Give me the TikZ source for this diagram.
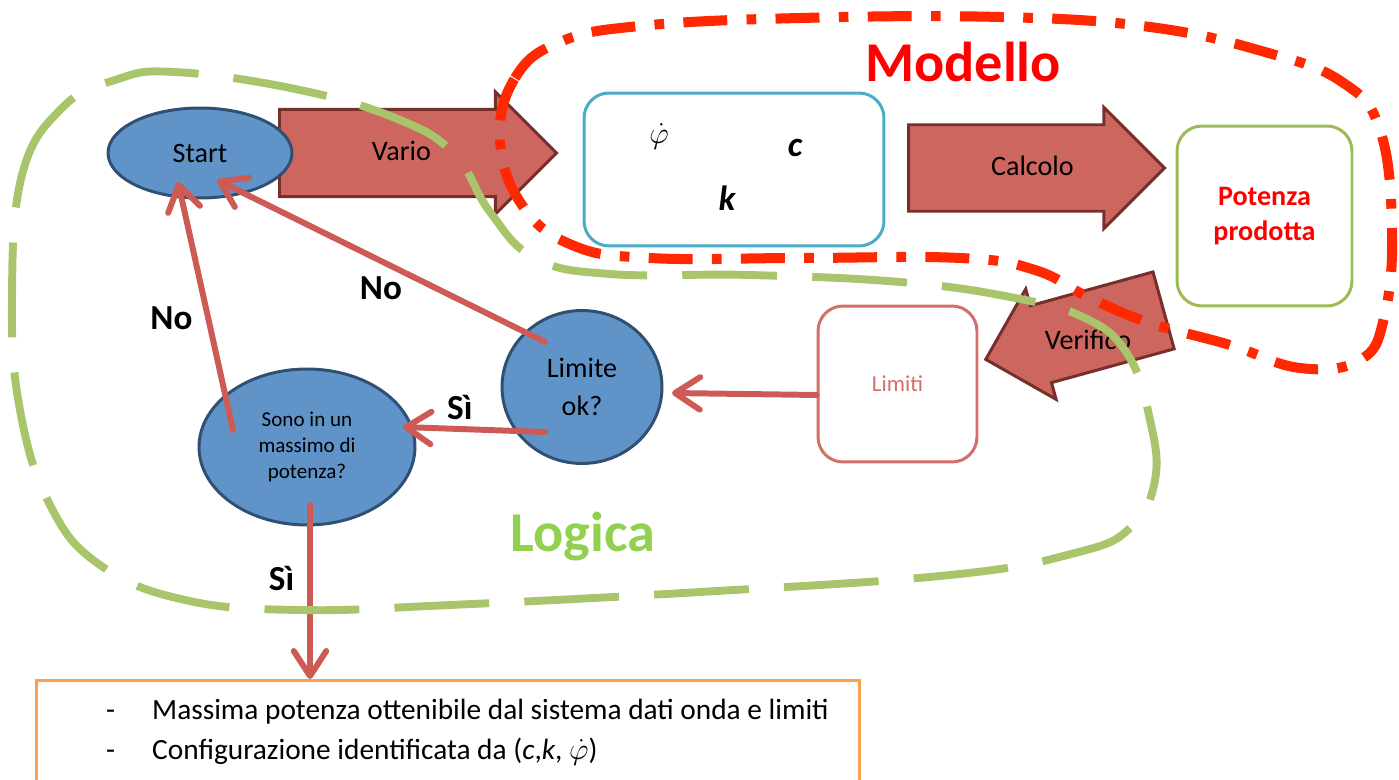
\documentclass[tikz,border=0pt]{standalone}
\usepackage{fontspec}
\setmainfont{Carlito}
\usepackage{xcolor}
\usetikzlibrary{shapes,arrows.meta,positioning,backgrounds,calc}

\definecolor{ellfill}{RGB}{96,148,200}
\definecolor{elldraw}{RGB}{47,80,115}
\definecolor{arrfill}{RGB}{205,102,94}
\definecolor{arrdraw}{RGB}{118,48,44}
\definecolor{linkred}{RGB}{205,90,84}
\definecolor{parcyan}{RGB}{75,172,198}
\definecolor{powgreen}{RGB}{155,187,89}
\definecolor{limred}{RGB}{212,110,105}
\definecolor{resorange}{RGB}{247,160,80}
\definecolor{modred}{RGB}{255,40,0}
\definecolor{loggreen}{RGB}{168,197,108}
\definecolor{logtext}{RGB}{146,208,80}

\begin{document}
\begin{tikzpicture}[x=0.02cm, y=-0.02cm,
        state/.style={ellipse, draw=elldraw, fill=ellfill, line width=1.7pt, inner sep=0pt, align=center},
        bigarrow/.style={single arrow, draw=arrdraw, fill=arrfill, line width=1.7pt, anchor=tail, text height=11pt, text depth=2pt, inner ysep=10.5pt, font=\fontsize{16}{19}\selectfont},
        panel/.style={rectangle, rounded corners=0.5cm, draw, fill=white, line width=1.7pt, align=center},
        link/.style={draw=linkred, line width=3.4pt, line cap=round, -{Straight Barb[round,length=0.5cm,width=0.65cm]}},
        answer/.style={font=\bfseries\fontsize{20}{24}\selectfont},
        title/.style={font=\bfseries\fontsize{32}{38}\selectfont}
    ]
    \clip (0,0) rectangle (1399,780);

    % Block arrows
    \node[bigarrow, minimum height=5.54cm, minimum width=2.44cm] (vario) at (278,153) {\hspace{6pt}Vario};
    \node[bigarrow, minimum height=5.12cm, minimum width=2.42cm] (calcolo) at (907,168) {\hspace{20pt}Calcolo};
    \node[bigarrow, minimum height=3.69cm, minimum width=2.29cm, inner ysep=9pt, rotate=195.4] (verifico) at (1165,310) {};
    \node[font=\fontsize{16}{19}\selectfont] (verificotext) at (1088,340) {Verifico};

    % States
    \node[state, minimum width=3.68cm, minimum height=1.8cm, font=\fontsize{16}{19}\selectfont] (start) at (200,153) {Start};
    \node[state, minimum width=3.2cm, minimum height=3.06cm, font=\fontsize{16}{21.5}\selectfont] (limite) at (582,387) {Limite\\ok?};
    \node[state, minimum width=4.32cm, minimum height=3.12cm, font=\fontsize{12}{15}\selectfont] (massimo) at (307,447) {Sono in un\\massimo di\\potenza?};

    % Boxes
    \node[panel, draw=parcyan, minimum width=6cm, minimum height=3.06cm] (param) at (734,169.5) {};
    \node[panel, draw=powgreen, minimum width=3.5cm, minimum height=3.6cm, text=red, font=\bfseries\fontsize{16}{20}\selectfont] (potenza) at (1264.5,216) {Potenza\\prodotta};
    \node[panel, draw=limred, minimum width=3.18cm, minimum height=3.12cm, text=limred, font=\fontsize{13}{16}\selectfont] (limiti) at (897.5,384) {Limiti};
    \node[rectangle, draw=resorange, line width=1.7pt, minimum width=16.46cm, minimum height=2.6cm, anchor=north west] (result) at (35,679) {};

    % Parameters
    \node[font=\fontsize{17}{20}\selectfont] (phi) at (659,136) {$\dot{\varphi}$};
    \node[font=\bfseries\itshape\fontsize{20}{24}\selectfont] (cpar) at (795,148) {c};
    \node[font=\bfseries\itshape\fontsize{20}{24}\selectfont] (kpar) at (727,198) {k};

    % Result text
    \node[anchor=west, align=left, font=\fontsize{16.7}{20}\selectfont] (resulttext) at (100,732) {\makebox[0.92cm][l]{-}Massima potenza ottenibile dal sistema dati onda e limiti\\[2.5pt]\makebox[0.92cm][l]{-}Configurazione identificata da (\textit{c},\textit{k}, $\dot{\varphi}$)};

    % Connectors
    \draw[link] ([shift={(-74,-17)}]massimo.center) -- ([shift={(-22,29)}]start.center) node[answer, pos=0.45, left=4pt] {No};
    \draw[link] ([shift={(-37,-45)}]limite.center) -- ([shift={(17,27)}]start.center) node[answer, pos=0.5, below=4pt] {No};
    \draw[link] ([shift={(-37,45)}]limite.center) -- ([shift={(96,-20)}]massimo.center) node[answer, pos=0.6, above=0pt] {Sì};
    \draw[link] ([shift={(0,11)}]limiti.west) -- ([shift={(90,6)}]limite.center);
    \draw[link] ([shift={(3,58)}]massimo.center) -- ([shift={(3,0)}]massimo.center |- result.north) node[answer, pos=0.42, left=4pt] {Sì};

    % Zones
    \draw[modred, line width=5.7pt, dash pattern=on 25pt off 11pt on 5.5pt off 11pt] plot[smooth cycle, tension=0.7] coordinates {(500,140) (515,78) (560,42) (640,26) (800,18) (1000,17) (1150,27) (1265,52) (1342,82) (1380,130) (1392,230) (1384,318) (1360,360) (1300,368) (1230,345) (1150,323) (1090,298) (1035,270) (960,258) (800,258) (650,258) (572,245) (522,205)};
    \draw[loggreen, line width=4.5pt, dash pattern=on 54pt off 20pt] plot[smooth cycle, tension=0.7] coordinates {(12,300) (22,175) (62,108) (115,80) (175,72) (300,90) (400,120) (455,155) (490,212) (535,258) (610,274) (750,275) (900,282) (1010,297) (1085,318) (1128,355) (1150,420) (1155,480) (1130,528) (1075,553) (950,575) (700,592) (450,605) (300,610) (185,600) (100,565) (50,505) (20,410)};

    \node[title, text=red] (modello) at (963,62) {Modello};
    \node[title, text=logtext] (logica) at (583,537) {Logica};
\end{tikzpicture}
\end{document}
